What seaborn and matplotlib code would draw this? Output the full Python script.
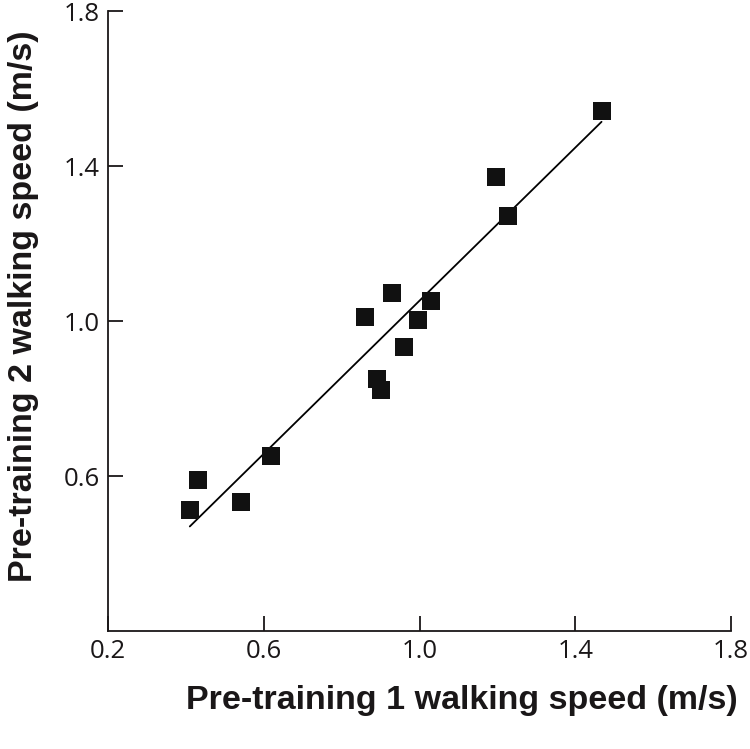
"""
Scatter of pre-training walking speeds with a linear fit.
"""

import numpy as np
import pandas as pd
import seaborn as sns
import matplotlib
matplotlib.use('Agg')
import matplotlib.pyplot as plt

# ----------------------------------------------- DATA ----------------------------------------------- #

pre1 = [0.41, 0.431, 0.541, 0.618, 0.859, 0.928, 0.89, 0.90, 0.959, 0.997, 1.028, 1.197, 1.228, 1.467]
pre2 = [0.512, 0.59, 0.533, 0.652, 1.01, 1.072, 0.85, 0.822, 0.933, 1.003, 1.052, 1.372, 1.271, 1.542]
ticks = [0.2, 0.6, 1.0, 1.4, 1.8]
yticks = [0.6, 1.0, 1.4, 1.8]

df = pd.DataFrame({'pre1': pre1, 'pre2': pre2})

# ----------------------------------------------- PLOT ----------------------------------------------- #

sns.set_style('white')
plt.rcParams['font.family'] = ['Open Sans', 'DejaVu Sans']
ink = '#1a1718'

fig = plt.figure(figsize=(7.5, 7.49), dpi=100)
ax = fig.add_axes([0.144, 0.1575, 0.831, 0.8275])

sns.regplot(data=df, x='pre1', y='pre2', ax=ax, ci=None, truncate=True,
            marker='s', color='#111111',
            scatter_kws={'s': 150, 'linewidths': 0, 'alpha': 1, 'zorder': 3},
            line_kws={'linewidth': 1.3, 'color': 'black'})

ax.set_xlim(0.2, 1.8)
ax.set_ylim(0.2, 1.8)
ax.set_xticks(ticks)
ax.set_yticks(yticks)
ax.set_xticklabels([f'{t:.1f}' for t in ticks])
ax.set_yticklabels([f'{t:.1f}' for t in yticks])
ax.tick_params(direction='in', length=11, width=1.3, labelsize=18.5, colors=ink,
               bottom=True, left=True)
ax.tick_params(axis='y', pad=6)
ax.tick_params(axis='x', pad=6)
sns.despine(ax=ax)
for s in ['left', 'bottom']:
    ax.spines[s].set_linewidth(1.3)
    ax.spines[s].set_color(ink)

ax.set_xlabel('Pre-training 1 walking speed (m/s)', fontsize=24.5, fontweight='bold',
              family='Liberation Sans', color=ink)
ax.set_ylabel('Pre-training 2 walking speed (m/s)', fontsize=24.5, fontweight='bold',
              family='Liberation Sans', color=ink)
ax.yaxis.set_label_coords(-0.11, 0.524)
ax.xaxis.set_label_coords(0.568, -0.087)

fig.savefig('out.png', dpi=100)
